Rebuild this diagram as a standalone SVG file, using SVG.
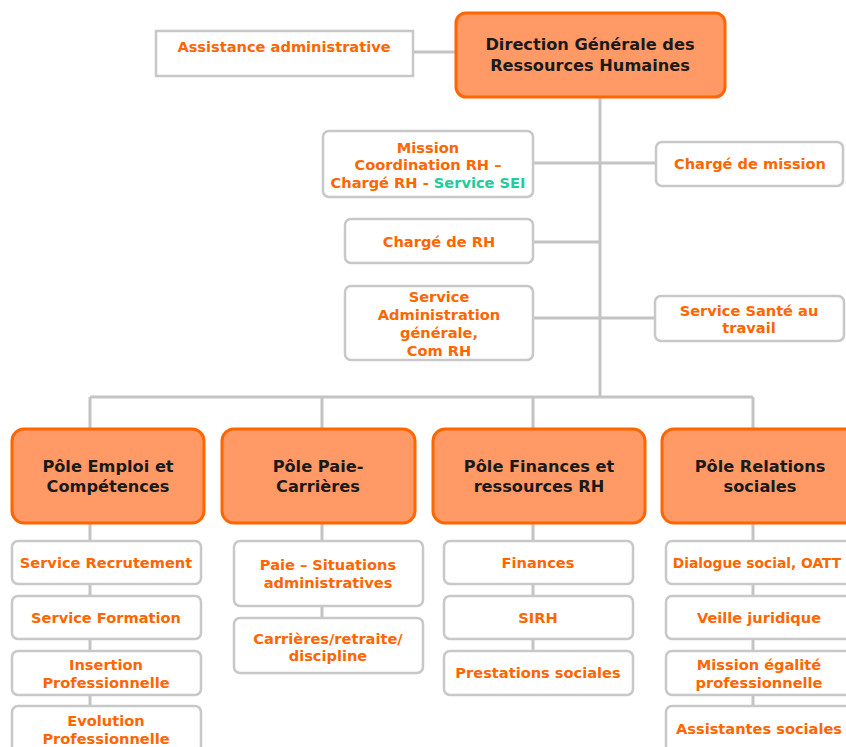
<svg xmlns="http://www.w3.org/2000/svg" width="846" height="747" viewBox="0 0 846 747">
<style>
.c{fill:none;stroke:#c4c4c4;stroke-width:3}
.b{fill:#fff;stroke:#c8c8c8;stroke-width:2.5}
.p{fill:#ff9966;stroke:#ff6600;stroke-width:3}
.t{font-family:"DejaVu Sans",Verdana,sans-serif;font-weight:bold;font-size:14.6px;fill:#ff6600;text-anchor:middle}
.k{font-family:"DejaVu Sans",Verdana,sans-serif;font-weight:bold;font-size:16.2px;fill:#1a1a1a;text-anchor:middle}
.g{fill:#22cc99}
</style>
<rect width="846" height="747" fill="#fff"/>
<g id="connectors">
<path class="c" d="M414 52H457M600 97V397M533 163H656M533 242H600M533 318H656M90 397H753M90 397V430M322 397V430M533 397V430M753 397V430"/>
<path class="c" d="M90 523V708M322 523V620M533 523V653M753 523V708"/>
</g>
<g id="assistance"><rect class="b" x="156" y="31" width="257" height="45"/><text class="t" x="284" y="52">Assistance administrative</text></g>
<g id="dgrh"><rect class="p" x="456" y="13" width="269" height="84" rx="10"/><text class="k" x="590" y="50">Direction Générale des</text><text class="k" x="590" y="71">Ressources Humaines</text></g>
<g id="mission"><rect class="b" x="323" y="131" width="210" height="66" rx="6"/><text class="t" x="428" y="153">Mission</text><text class="t" x="428" y="170">Coordination RH –</text><text class="t" x="428" y="188">Chargé RH - <tspan class="g">Service SEI</tspan></text></g>
<g id="charge-mission"><rect class="b" x="656" y="142" width="187" height="44" rx="6"/><text class="t" x="750" y="169">Chargé de mission</text></g>
<g id="charge-rh"><rect class="b" x="345" y="219" width="188" height="44" rx="6"/><text class="t" x="439" y="247">Chargé de RH</text></g>
<g id="admin"><rect class="b" x="345" y="286" width="188" height="74" rx="6"/><text class="t" x="439" y="302">Service</text><text class="t" x="439" y="320">Administration</text><text class="t" x="439" y="338">générale,</text><text class="t" x="439" y="356">Com RH</text></g>
<g id="sante"><rect class="b" x="655" y="296" width="189" height="45" rx="6"/><text class="t" x="749" y="316">Service Santé au</text><text class="t" x="749" y="333">travail</text></g>
<g id="pole-emploi"><rect class="p" x="12" y="429" width="192" height="94" rx="12"/><text class="k" x="108" y="472">Pôle Emploi et</text><text class="k" x="108" y="492">Compétences</text></g>
<g id="pole-paie"><rect class="p" x="222" y="429" width="193" height="94" rx="12"/><text class="k" x="318" y="472">Pôle Paie-</text><text class="k" x="318" y="492">Carrières</text></g>
<g id="pole-finances"><rect class="p" x="433" y="429" width="212" height="94" rx="12"/><text class="k" x="539" y="472">Pôle Finances et</text><text class="k" x="539" y="492">ressources RH</text></g>
<g id="pole-relations"><rect class="p" x="662" y="429" width="196" height="94" rx="12"/><text class="k" x="760" y="472">Pôle Relations</text><text class="k" x="760" y="492">sociales</text></g>
<g id="recrutement"><rect class="b" x="12" y="541" width="189" height="43" rx="6"/><text class="t" x="106" y="568">Service Recrutement</text></g>
<g id="formation"><rect class="b" x="12" y="596" width="189" height="43" rx="6"/><text class="t" x="106" y="623">Service Formation</text></g>
<g id="insertion"><rect class="b" x="12" y="651" width="189" height="44" rx="6"/><text class="t" x="106" y="670">Insertion</text><text class="t" x="106" y="688">Professionnelle</text></g>
<g id="evolution"><rect class="b" x="12" y="706" width="189" height="50" rx="6"/><text class="t" x="106" y="726">Evolution</text><text class="t" x="106" y="744">Professionnelle</text></g>
<g id="paie"><rect class="b" x="234" y="541" width="189" height="65" rx="6"/><text class="t" x="328" y="570">Paie – Situations</text><text class="t" x="328" y="588">administratives</text></g>
<g id="carrieres"><rect class="b" x="234" y="618" width="189" height="55" rx="6"/><text class="t" x="328" y="644">Carrières/retraite/</text><text class="t" x="328" y="661">discipline</text></g>
<g id="finances"><rect class="b" x="444" y="541" width="189" height="43" rx="6"/><text class="t" x="538" y="568">Finances</text></g>
<g id="sirh"><rect class="b" x="444" y="596" width="189" height="43" rx="6"/><text class="t" x="538" y="623">SIRH</text></g>
<g id="prestations"><rect class="b" x="444" y="651" width="189" height="44" rx="6"/><text class="t" x="538" y="678">Prestations sociales</text></g>
<g id="dialogue"><rect class="b" x="666" y="541" width="190" height="43" rx="6"/><text class="t" x="757" y="568" style="font-size:13.8px">Dialogue social, OATT</text></g>
<g id="veille"><rect class="b" x="666" y="596" width="190" height="43" rx="6"/><text class="t" x="759" y="623">Veille juridique</text></g>
<g id="egalite"><rect class="b" x="666" y="651" width="190" height="44" rx="6"/><text class="t" x="759" y="670">Mission égalité</text><text class="t" x="759" y="688">professionnelle</text></g>
<g id="assistantes"><rect class="b" x="666" y="706" width="190" height="50" rx="6"/><text class="t" x="759" y="734">Assistantes sociales</text></g>
</svg>
